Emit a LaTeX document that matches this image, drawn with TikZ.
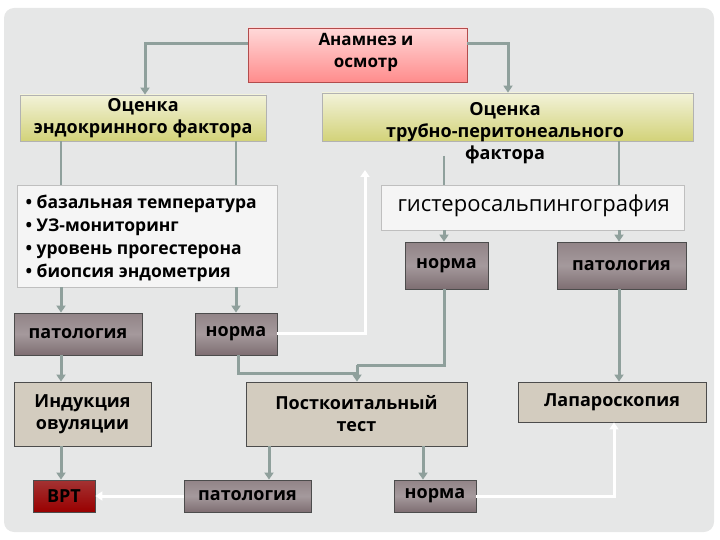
\documentclass[tikz,border=0pt]{standalone}
\usepackage{fontspec}
\setmainfont{Open Sans}
\usetikzlibrary{arrows.meta}
\definecolor{panel}{HTML}{E6E7E7}
\definecolor{conn}{HTML}{8FA09C}
\definecolor{mauve}{HTML}{7E6E72}
\definecolor{beige}{HTML}{D3CCBF}
\tikzset{
  box/.style={draw=black!70, line width=0.8pt, inner sep=0pt, font=\bfseries\fontsize{18}{22}\selectfont, align=center},
  dark/.style={box, top color=mauve!85, bottom color=mauve, middle color=mauve!70},
  tan/.style={box, fill=beige},
  olive/.style={box, draw=black!30, top color=white!90!olive, bottom color=olive!35!white},
  arr/.style={draw=conn, line width=3pt, -{Triangle[length=7pt,width=9pt]}},
  ln/.style={draw=conn, line width=2pt},
  warr/.style={draw=white, line width=3pt, -{Triangle[length=7pt,width=9pt]}},
}
\begin{document}
\begin{tikzpicture}[x=1pt,y=-1pt]
\useasboundingbox (0,0) rectangle (720,540);
\fill[panel, rounded corners=10pt] (4,8) rectangle (714,532);
% boxes
\node[box, top color=red!15, bottom color=red!45, draw=red!40!gray] (an) at (357.5,55) [minimum width=219pt, minimum height=54pt] {};
\node[font=\bfseries\fontsize{17}{22}\selectfont, align=center] (ant) at (366,52) {Анамнез и\\осмотр};
\node[olive, minimum width=246pt, minimum height=46pt] (en) at (143,118) {Оценка\\эндокринного фактора};
\node[olive, minimum width=371pt, minimum height=48pt] (tu) at (507.5,117) {};
\node[font=\bfseries\fontsize{18}{22}\selectfont, align=center] (tut) at (505,133) {Оценка\\трубно-перитонеального\\фактора};
\node[draw=black!25, fill=white!60!panel, minimum width=260pt, minimum height=102pt] (li) at (147,236) {};
\node[font=\bfseries\fontsize{17.5}{23}\selectfont, align=left, anchor=west] (lit) at (22,238) {• базальная температура\\• УЗ-мониторинг\\• уровень прогестерона\\• биопсия эндометрия};
\node[draw=black!25, fill=white!60!panel, minimum width=303pt, minimum height=45pt] (hy) at (532.5,207.5) {};
\node[font=\fontsize{22}{24}\selectfont, anchor=west] (hyt) at (394,206) {гистеросальпингография};
\node[dark, minimum width=83pt, minimum height=47pt] (n1) at (446.5,265.5) {норма};
\node[dark, minimum width=129pt, minimum height=47pt] (p1) at (621.5,265.5) {патология};
\node[dark, minimum width=128pt, minimum height=42pt] (p2) at (78,334) {патология};
\node[dark, minimum width=82pt, minimum height=42pt] (n2) at (236,334) {норма};
\node[tan, minimum width=137pt, minimum height=64pt] (ind) at (82.5,414) {Индукция\\овуляции};
\node[tan, minimum width=221pt, minimum height=64pt] (pc) at (356.5,414) {Посткоитальный\\тест};
\node[tan, minimum width=188pt, minimum height=40pt] (la) at (612,402) {Лапароскопия};
\node[box, top color=red!55!black!80, bottom color=red!60!black, minimum width=62pt, minimum height=32pt] (vrt) at (64,496) {ВРТ};
\node[dark, minimum width=127pt, minimum height=32pt] (p3) at (247.5,496) {патология};
\node[dark, minimum width=82pt, minimum height=32pt] (n3) at (435,496) {норма};
% connectors
\draw[arr] (an.west |- 0,44) -| (en.north -| 145,0);
\draw[arr] (an.east |- 0,44) -| (tu.north -| 508,0);
\draw[ln] (en.south -| 61,0) -- (li.north -| 61,0);
\draw[ln] (en.south -| 236,0) -- (li.north -| 236,0);
\draw[arr] (li.south -| 61,0) -- (p2.north -| 61,0);
\draw[arr] (li.south -| 236,0) -- (n2.north -| 236,0);
\coordinate (t1) at (444,156);
\draw[ln] (t1) -- (hy.north -| 444,0);
\draw[ln] (tu.south -| 619,0) -- (hy.north -| 619,0);
\draw[arr] (hy.south -| 444,0) -- (n1.north -| 444,0);
\draw[arr] (hy.south -| 619,0) -- (p1.north -| 619,0);
\draw[arr] (p2.south -| 61,0) -- (ind.north -| 61,0);
\draw[arr] (ind.south -| 61,0) -- (vrt.north -| 61,0);
\draw[ln, line width=3pt] (n2.south -| 238,0) |- (357,373);
\draw[ln, line width=3pt] (n1.south -| 444,0) |- (357,365);
\draw[arr] (357,365) -- (pc.north -| 357,0);
\draw[arr] (p1.south -| 619,0) -- (la.north -| 619,0);
\coordinate (wt) at (365,170);
\draw[warr] (n2.east |- 0,333) -| (wt);
\draw[arr] (pc.south -| 269,0) -- (p3.north -| 269,0);
\draw[arr] (pc.south -| 423,0) -- (n3.north -| 423,0);
\draw[warr] (p3.west) -- (vrt.east);
\draw[warr] (n3.east) -| (la.south -| 614,0);
\end{tikzpicture}
\end{document}
